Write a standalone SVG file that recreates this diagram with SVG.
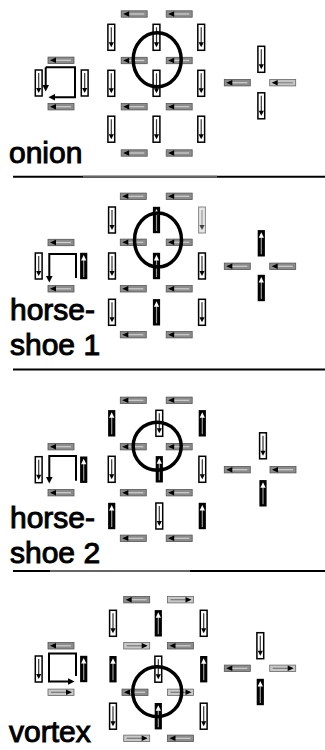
<svg xmlns="http://www.w3.org/2000/svg" width="325" height="750" viewBox="0 0 325 750">
<style>
text{font-family:"Liberation Sans",Arial,sans-serif;font-size:30px;fill:#000;stroke:#000;stroke-width:1}
.ring{fill:none;stroke:#000;stroke-width:3.5}
.loop{fill:none;stroke:#000;stroke-width:2}
.sep{stroke:#000;stroke-width:2}
</style>
<defs>
<marker id="ah" viewBox="0 0 10 10" refX="2" refY="5" markerWidth="7" markerHeight="7" markerUnits="userSpaceOnUse" orient="auto"><path d="M0,0 L10,5 L0,10 z" fill="#000"/></marker>
<g id="hL"><rect x="-13" y="-3.2" width="26" height="6.4" fill="#8c8c8c" stroke="#555" stroke-width="0.8"/><line x1="-6" y1="0" x2="10" y2="0" stroke="#d0d0d0" stroke-width="1.2"/><path d="M-11,0 L-5,-2.8 L-5,2.8 z" fill="#000"/></g>
<g id="hLl"><rect x="-13" y="-3.2" width="26" height="6.4" fill="#c4c4c4" stroke="#666" stroke-width="0.8"/><line x1="-6" y1="0" x2="10" y2="0" stroke="#888" stroke-width="1.2"/><path d="M-11,0 L-5,-2.8 L-5,2.8 z" fill="#000"/></g>
<g id="hR"><rect x="-13" y="-3.2" width="26" height="6.4" fill="#c8c8c8" stroke="#666" stroke-width="0.8"/><line x1="-10" y1="0" x2="6" y2="0" stroke="#777" stroke-width="1.2"/><path d="M11,0 L5,-2.8 L5,2.8 z" fill="#000"/></g>
<g id="vD"><rect x="-3.4" y="-13" width="6.8" height="26" fill="#fff" stroke="#000" stroke-width="1.5"/><line x1="0" y1="-10" x2="0" y2="7" stroke="#333" stroke-width="1.2"/><path d="M0,10 L-2.6,5 L2.6,5 z" fill="#000"/></g>
<g id="vDl"><rect x="-3.4" y="-13" width="6.8" height="26" fill="#e6e6e6" stroke="#888" stroke-width="1"/><line x1="0" y1="-10" x2="0" y2="7" stroke="#999" stroke-width="1.2"/><path d="M0,10 L-2.6,5 L2.6,5 z" fill="#444"/></g>
<g id="vU"><rect x="-3.6" y="-13.2" width="7.2" height="26.4" fill="#000"/><line x1="0" y1="-7" x2="0" y2="11" stroke="#999" stroke-width="1.2"/><path d="M0,-11 L-2.6,-5.5 L2.6,-5.5 z" fill="#fff"/></g>
</defs>

<g id="onion">
 <g id="onion-grid">
  <use href="#hL" x="134.2" y="14"/><use href="#hL" x="179.2" y="14"/>
  <use href="#vD" x="111.3" y="37.3"/><use href="#vD" x="156.5" y="37.3"/><use href="#vD" x="201.2" y="37.3"/>
  <use href="#hL" x="134.2" y="60.5"/><use href="#hL" x="179.2" y="60.5"/>
  <use href="#vD" x="111.3" y="83.3"/><use href="#vD" x="156.5" y="83.3"/><use href="#vD" x="201.2" y="83.3"/>
  <use href="#hL" x="134.2" y="106.7"/><use href="#hL" x="179.2" y="106.7"/>
  <use href="#vD" x="111.3" y="129.2"/><use href="#vD" x="156.5" y="129.2"/><use href="#vD" x="201.2" y="129.2"/>
  <use href="#hL" x="134.2" y="153"/><use href="#hL" x="179.2" y="153"/>
  <ellipse class="ring" cx="157.2" cy="59.7" rx="24" ry="27"/>
 </g>
 <g id="onion-cell">
  <use href="#hL" x="61" y="60.3"/><use href="#vD" x="38.7" y="83"/><use href="#vD" x="84.7" y="83"/><use href="#hL" x="61" y="106.7"/>
 </g>
 <g id="onion-cross">
  <use href="#vD" x="261.3" y="59.3"/><use href="#hL" x="237.3" y="82.7"/><use href="#hLl" x="282.7" y="82.7"/><use href="#vD" x="261.3" y="105.8"/>
 </g>
 <text x="9" y="163">onion</text>
</g>

<g id="horseshoe1">
 <g id="hs1-grid">
  <use href="#hL" x="133.3" y="196.3"/><use href="#hL" x="179.2" y="196.3"/>
  <use href="#vD" x="112" y="220"/><use href="#vU" x="156.5" y="220"/><use href="#vDl" x="202" y="220"/>
  <use href="#hL" x="133.3" y="242.3"/><use href="#hL" x="179.2" y="242.3"/>
  <use href="#vD" x="112" y="266"/><use href="#vU" x="156.5" y="266"/><use href="#vD" x="202" y="266"/>
  <use href="#hL" x="133.3" y="288.8"/><use href="#hL" x="179.2" y="288.8"/>
  <use href="#vD" x="112" y="312.3"/><use href="#vU" x="156.5" y="312.3"/><use href="#vD" x="202" y="312.3"/>
  <use href="#hL" x="133.3" y="334.7"/><use href="#hL" x="179.2" y="334.7"/>
  <ellipse class="ring" cx="158" cy="240" rx="23.5" ry="27"/>
 </g>
 <g id="hs1-cell">
  <use href="#hL" x="61" y="242.5"/><use href="#vD" x="38.7" y="266"/><use href="#vU" x="83.7" y="266"/><use href="#hL" x="61" y="288.8"/>
 </g>
 <g id="hs1-cross">
  <use href="#vU" x="261.3" y="243.3"/><use href="#hL" x="237.3" y="266.3"/><use href="#hL" x="282.7" y="266.3"/><use href="#vU" x="261.3" y="288"/>
 </g>
 <text x="10" y="320">horse-</text>
 <text x="10" y="355">shoe 1</text>
</g>

<g id="horseshoe2">
 <g id="hs2-grid">
  <use href="#hL" x="133.3" y="400.3"/><use href="#hL" x="179.2" y="400.3"/>
  <use href="#vU" x="111.7" y="423.3"/><use href="#vD" x="159.3" y="423.3"/><use href="#vU" x="202.3" y="423.3"/>
  <use href="#hL" x="133.3" y="446.7"/><use href="#hL" x="179.2" y="446.7"/>
  <use href="#vD" x="111.7" y="469.3"/><use href="#vU" x="159.3" y="469.3"/><use href="#vD" x="202.3" y="469.3"/>
  <use href="#hL" x="133.3" y="492.7"/><use href="#hL" x="179.2" y="492.7"/>
  <use href="#vU" x="111.7" y="516"/><use href="#vD" x="159.3" y="516"/><use href="#vU" x="202.3" y="516"/>
  <use href="#hL" x="133.3" y="538.3"/><use href="#hL" x="179.2" y="538.3"/>
  <ellipse class="ring" cx="157.2" cy="446.2" rx="24" ry="24"/>
 </g>
 <g id="hs2-cell">
  <use href="#hL" x="61" y="446.7"/><use href="#vD" x="38.7" y="469.7"/><use href="#vU" x="83.7" y="469.7"/><use href="#hL" x="61" y="492.7"/>
 </g>
 <g id="hs2-cross">
  <use href="#vD" x="263" y="445.8"/><use href="#hL" x="237.3" y="469.7"/><use href="#hL" x="283" y="469.7"/><use href="#vU" x="263" y="493.3"/>
 </g>
 <text x="10" y="528.3">horse-</text>
 <text x="10" y="563.3">shoe 2</text>
</g>

<g id="vortex">
 <g id="vx-grid">
  <use href="#hL" x="136.7" y="599.7"/><use href="#hR" x="180.5" y="599.7"/>
  <use href="#vD" x="113" y="623.3"/><use href="#vU" x="158.3" y="623.3"/><use href="#vD" x="203.7" y="623.3"/>
  <use href="#hR" x="136.7" y="645.8"/><use href="#hL" x="180.5" y="645.8"/>
  <use href="#vU" x="113" y="669.2"/><use href="#vD" x="158.3" y="669.2"/><use href="#vU" x="203.7" y="669.2"/>
  <use href="#hL" x="135" y="692.3"/><use href="#hR" x="180.5" y="692.3"/>
  <use href="#vD" x="113" y="716.2"/><use href="#vU" x="158.3" y="716.2"/><use href="#vD" x="203.7" y="716.2"/>
  <use href="#hR" x="136.7" y="738.3"/><use href="#hL" x="180.5" y="738.3"/>
  <ellipse class="ring" cx="157.2" cy="691.7" rx="24.5" ry="25"/>
 </g>
 <g id="vx-cell">
  <use href="#hL" x="61" y="645.8"/><use href="#vD" x="38.7" y="669"/><use href="#vU" x="83.7" y="669"/><use href="#hR" x="61" y="692.3"/>
 </g>
 <g id="vx-cross">
  <use href="#vD" x="260.3" y="645.7"/><use href="#hL" x="237.3" y="668.3"/><use href="#hR" x="282.7" y="668.3"/><use href="#vU" x="260.3" y="692"/>
 </g>
 <text x="9" y="741.7">vortex</text>
</g>

<g id="connectors">
 <path class="loop" d="M45.7,67.3 H75 V97.3 H54" marker-end="url(#ah)"/>
 <path class="loop" d="M45.7,67.3 V86" marker-end="url(#ah)"/>
 <path class="loop" d="M76,278 V254 H49.3 V277" marker-end="url(#ah)"/>
 <path class="loop" d="M76,480.7 V456 H49.3 V478" marker-end="url(#ah)"/>
 <path class="loop" d="M76,676 V653.5 H49 V681.5 H69" marker-end="url(#ah)"/>
</g>

<g id="separators">
 <line class="sep" x1="13" y1="176.7" x2="325" y2="176.7"/>
 <line x1="83" y1="176.7" x2="217" y2="176.7" stroke="#666" stroke-width="2"/>
 <line class="sep" x1="13" y1="369.5" x2="325" y2="369.5"/>
 <line class="sep" x1="13" y1="571" x2="325" y2="571"/>
 <line x1="50" y1="571" x2="190" y2="571" stroke="#666" stroke-width="2"/>
</g>
</svg>
